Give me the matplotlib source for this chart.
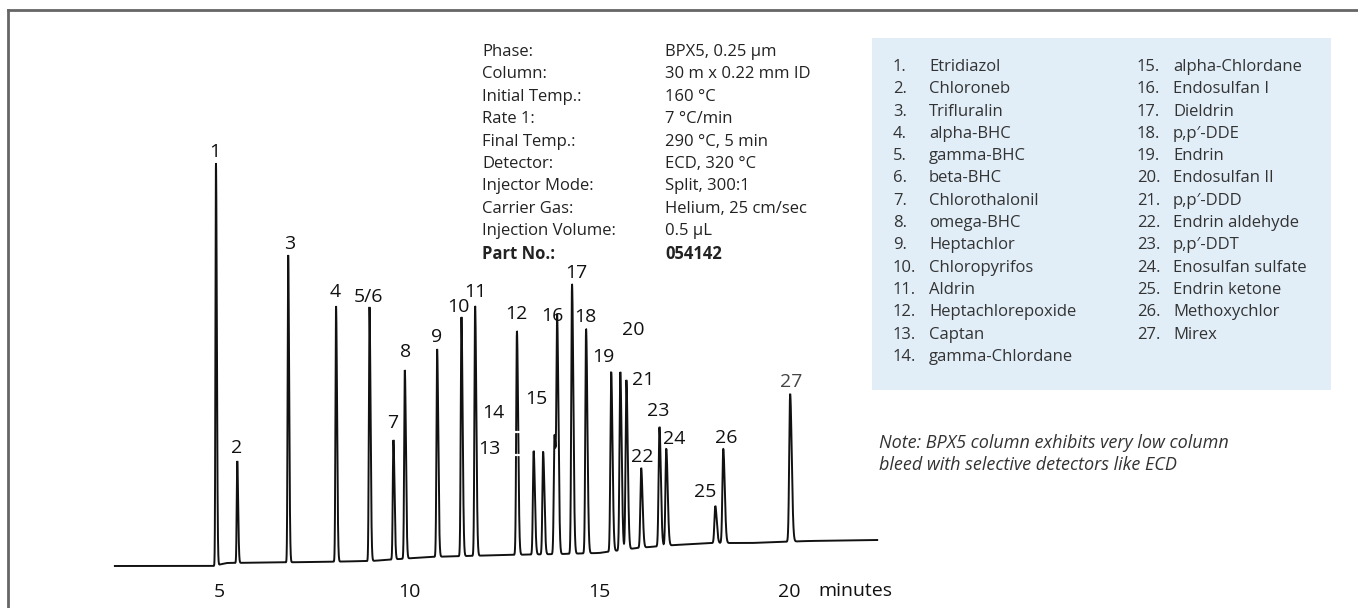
import numpy as np
import matplotlib
matplotlib.use("Agg")
import matplotlib.pyplot as plt

plt.rcParams["font.family"] = ["Open Sans", "DejaVu Sans"]

# Retention times (min) and apex heights (response) of the resolved peaks
peak_times = [4.92, 5.48, 6.82, 8.08, 8.96, 9.59, 9.89, 10.74, 11.38, 11.74,
              12.84, 13.28, 13.53, 13.83, 13.90, 14.29, 14.66, 15.32, 15.56,
              15.72, 16.11, 16.59, 16.77, 18.06, 18.27, 20.03]
peak_heights = [403, 105, 311, 260, 259, 126, 196, 217, 249, 260,
                235, 115, 114, 131, 238, 282, 237, 194, 194,
                186, 98, 139, 117, 60, 117, 172]

# Baseline drift over the run
base_times = [2.26, 4.85, 5.2, 7.5, 9.0, 10.5, 11.5, 12.5, 14.0, 15.0,
              16.0, 17.0, 18.0, 19.0, 20.5, 22.32]
base_levels = [0, 0, 3, 4, 5, 9, 10, 11, 12, 13, 18, 21, 23, 23, 25, 26]

# Peak numbers and where their labels sit (time, response)
peak_labels = ["1", "2", "3", "4", "5/6", "7", "8", "9", "10", "11", "12",
               "13", "14", "15", "16", "17", "18", "19", "20", "21", "22",
               "23", "24", "25", "26", "27"]
label_pos = [(4.89, 414), (5.47, 118), (6.87, 322), (8.07, 274), (8.94, 269),
             (9.57, 143), (9.92, 214), (10.73, 229), (11.30, 259), (11.74, 274),
             (12.83, 252), (12.11, 117), (12.21, 153), (13.36, 167), (13.76, 250),
             (14.39, 293), (14.63, 249), (15.11, 209), (15.89, 236), (16.15, 186),
             (16.15, 109), (16.55, 155), (16.97, 127), (17.79, 74), (18.36, 128),
             (20.07, 184)]

tick_minutes = [5, 10, 15, 20]

conditions = [("Phase:", "BPX5, 0.25 µm"),
              ("Column:", "30 m x 0.22 mm ID"),
              ("Initial Temp.:", "160 °C"),
              ("Rate 1:", "7 °C/min"),
              ("Final Temp.:", "290 °C, 5 min"),
              ("Detector:", "ECD, 320 °C"),
              ("Injector Mode:", "Split, 300:1"),
              ("Carrier Gas:", "Helium, 25 cm/sec"),
              ("Injection Volume:", "0.5 µL"),
              ("Part No.:", "054142")]

compounds = ["Etridiazol", "Chloroneb", "Trifluralin", "alpha-BHC", "gamma-BHC",
             "beta-BHC", "Chlorothalonil", "omega-BHC", "Heptachlor",
             "Chloropyrifos", "Aldrin", "Heptachlorepoxide", "Captan",
             "gamma-Chlordane", "alpha-Chlordane", "Endosulfan I", "Dieldrin",
             "p,p\u2032-DDE", "Endrin", "Endosulfan II", "p,p\u2032-DDD",
             "Endrin aldehyde", "p,p\u2032-DDT", "Enosulfan sulfate",
             "Endrin ketone", "Methoxychlor", "Mirex"]

# build the trace: narrow, slightly tailing peaks on a drifting baseline
t = np.linspace(base_times[0], base_times[-1], 60000)
signal = np.interp(t, base_times, base_levels).astype(float)
for rt, apex in zip(peak_times, peak_heights):
    amp = apex - np.interp(rt, base_times, base_levels)
    s = 0.010 + 0.0007 * rt
    width = np.where(t < rt, s, 1.7 * s)
    signal += amp * np.exp(-0.5 * ((t - rt) / width) ** 2)

W, H = 1358, 608
fig = plt.figure(figsize=(W / 100, H / 100), dpi=100)

# axes in pixel-like units: 38 px per minute, 1 response unit = 1 px
ax = fig.add_axes([0, (H - 580) / H, 1, 580 / H])
ax.set_xlim(-29 / 38, (W - 29) / 38)
ax.set_ylim(-14, 566)
ax.plot(t, signal, color="#111111", lw=1.4, solid_joinstyle="miter")

# small white marks where 13 and 14 sit on the flank of peak 12
for h in (134, 111):
    ax.plot([12.84 - 0.05, 12.84 + 0.05], [h, h], color="white", lw=1.6)

for lab, (lx, ly) in zip(peak_labels, label_pos):
    col = "#444444" if lab == "27" else "#111111"
    ax.text(lx, ly, lab, ha="center", va="center", fontsize=14, color=col)

for sp in ax.spines.values():
    sp.set_visible(False)
ax.set_yticks([])
ax.set_xticks(tick_minutes)
ax.set_xticklabels([str(m) for m in tick_minutes])
ax.tick_params(axis="x", length=0, pad=2, labelsize=14, labelcolor="#111111")
ax.text(21.74, -25, "minutes", ha="center", va="center", fontsize=14,
        color="#111111", clip_on=False)
ax.patch.set_alpha(0)

# outer frame (top and left edges)
fig.add_artist(plt.Line2D([8 / W, 8 / W], [0, 1 - 10 / H], color="#666666", lw=2))
fig.add_artist(plt.Line2D([8 / W, 1], [1 - 10 / H, 1 - 10 / H], color="#666666", lw=2))

# chromatographic conditions
for i, (k, v) in enumerate(conditions):
    y = 1 - (52 + i * 22.4) / H
    weight = "bold" if i == len(conditions) - 1 else "normal"
    fig.text(482 / W, y, k, ha="left", va="center", fontsize=12,
             color="#222222", fontweight=weight)
    fig.text(665 / W, y, v, ha="left", va="center", fontsize=12,
             color="#222222", fontweight=weight)

# compound key
fig.patches.append(plt.Rectangle((872 / W, 1 - 390 / H), (1331 - 872) / W,
                                 (390 - 38) / H, transform=fig.transFigure,
                                 facecolor="#e1eef8", edgecolor="none", zorder=0))
for i, name in enumerate(compounds):
    col = i // 14
    row = i % 14
    y = 1 - (67 + row * 22.3) / H
    xn = 893 if col == 0 else 1137
    xt = 929 if col == 0 else 1173
    fig.text(xn / W, y, f"{i + 1}.", ha="left", va="center", fontsize=12,
             color="#333333")
    fig.text(xt / W, y, name, ha="left", va="center", fontsize=12,
             color="#333333")

fig.text(879 / W, 1 - 443 / H, "Note: BPX5 column exhibits very low column",
         ha="left", va="center", fontsize=13, style="italic", color="#333333")
fig.text(879 / W, 1 - 465 / H, "bleed with selective detectors like ECD",
         ha="left", va="center", fontsize=13, style="italic", color="#333333")

fig.savefig("out.png", dpi=100)
